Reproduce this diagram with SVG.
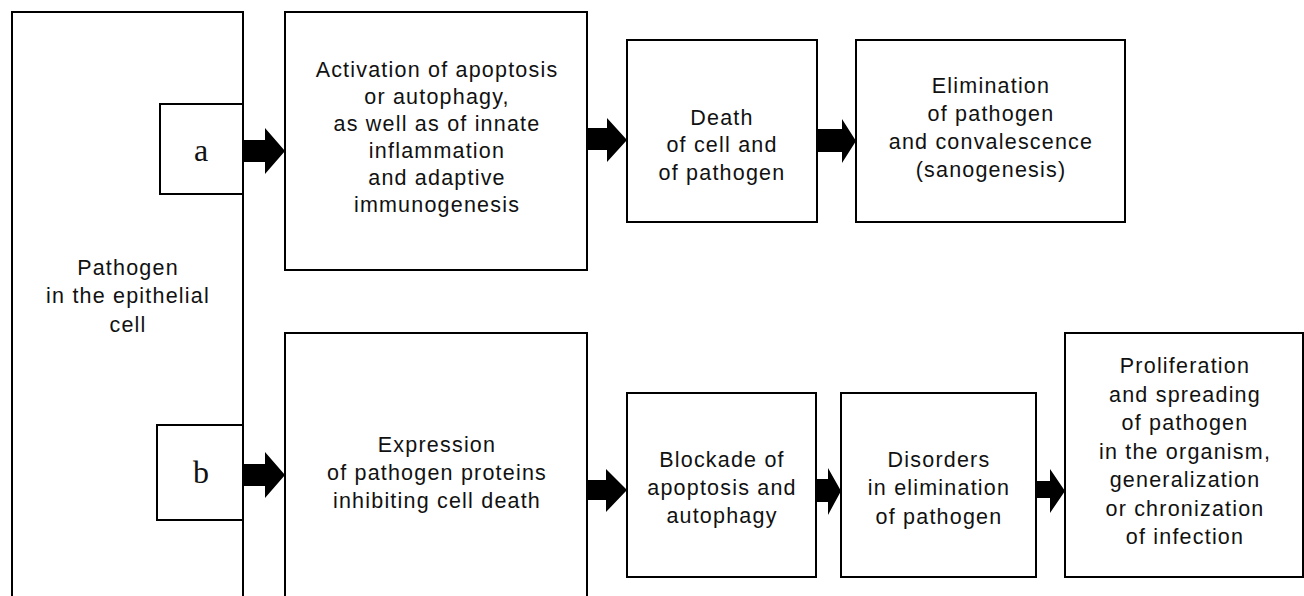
<svg xmlns="http://www.w3.org/2000/svg" width="1304" height="596" viewBox="0 0 1304 596">
<style>
.box{fill:#fff;stroke:#000;stroke-width:2}
.t{font-family:"Liberation Sans",Arial,sans-serif;font-size:21.5px;letter-spacing:1.2px;fill:#111;text-anchor:middle}
.s{font-family:"Liberation Serif","Times New Roman",serif;font-size:32px;fill:#111;text-anchor:middle}
.arr{fill:#000;stroke:none}
</style>
<rect width="1304" height="596" fill="#fff"/>
<g id="pathogen">
<rect class="box" x="12" y="12" width="231" height="600"/>
<text class="t" x="128" y="275">Pathogen</text>
<text class="t" x="128" y="303">in the epithelial</text>
<text class="t" x="128" y="332">cell</text>
</g>
<g id="label-a">
<rect class="box" x="160" y="104" width="83" height="90"/>
<text class="s" x="201" y="161">a</text>
</g>
<g id="label-b">
<rect class="box" x="157" y="425" width="86" height="95"/>
<text class="s" x="201" y="483">b</text>
</g>
<g id="activation">
<rect class="box" x="285" y="12" width="302" height="258"/>
<text class="t" x="437" y="77">Activation of apoptosis</text>
<text class="t" x="437" y="104">or autophagy,</text>
<text class="t" x="437" y="131">as well as of innate</text>
<text class="t" x="437" y="158">inflammation</text>
<text class="t" x="437" y="185">and adaptive</text>
<text class="t" x="437" y="212">immunogenesis</text>
</g>
<g id="death">
<rect class="box" x="627" y="40" width="190" height="182"/>
<text class="t" x="722" y="125">Death</text>
<text class="t" x="722" y="152">of cell and</text>
<text class="t" x="722" y="180">of pathogen</text>
</g>
<g id="elimination">
<rect class="box" x="856" y="40" width="269" height="182"/>
<text class="t" x="991" y="93">Elimination</text>
<text class="t" x="991" y="121">of pathogen</text>
<text class="t" x="991" y="149">and convalescence</text>
<text class="t" x="991" y="177">(sanogenesis)</text>
</g>
<g id="expression">
<rect class="box" x="285" y="333" width="302" height="280"/>
<text class="t" x="437" y="452">Expression</text>
<text class="t" x="437" y="480">of pathogen proteins</text>
<text class="t" x="437" y="508">inhibiting cell death</text>
</g>
<g id="blockade">
<rect class="box" x="627" y="393" width="189" height="184"/>
<text class="t" x="722" y="467">Blockade of</text>
<text class="t" x="722" y="495">apoptosis and</text>
<text class="t" x="722" y="523">autophagy</text>
</g>
<g id="disorders">
<rect class="box" x="841" y="393" width="195" height="184"/>
<text class="t" x="939" y="467">Disorders</text>
<text class="t" x="939" y="495">in elimination</text>
<text class="t" x="939" y="524">of pathogen</text>
</g>
<g id="proliferation">
<rect class="box" x="1065" y="333" width="238" height="244"/>
<text class="t" x="1185" y="373">Proliferation</text>
<text class="t" x="1185" y="401.5">and spreading</text>
<text class="t" x="1185" y="430">of pathogen</text>
<text class="t" x="1185" y="458.5">in the organism,</text>
<text class="t" x="1185" y="487">generalization</text>
<text class="t" x="1185" y="515.5">or chronization</text>
<text class="t" x="1185" y="544">of infection</text>
</g>
<g id="connectors">
<polygon class="arr" points="243,140 265,140 265,128 285,151 265,174 265,162 243,162"/>
<polygon class="arr" points="243,464 265,464 265,452 285,475 265,498 265,486 243,486"/>
<polygon class="arr" points="587,128 607,128 607,118 627,140 607,162 607,150 587,150"/>
<polygon class="arr" points="817,129 842,129 842,119 856,141 842,163 842,152 817,152"/>
<polygon class="arr" points="587,480 606,480 606,469 627,490 606,512 606,500 587,500"/>
<polygon class="arr" points="816,479 828,479 828,468 841,491 828,515 828,502 816,502"/>
<polygon class="arr" points="1036,481 1050,481 1050,469 1065,491 1050,513 1050,498 1036,498"/>
</g>
</svg>
